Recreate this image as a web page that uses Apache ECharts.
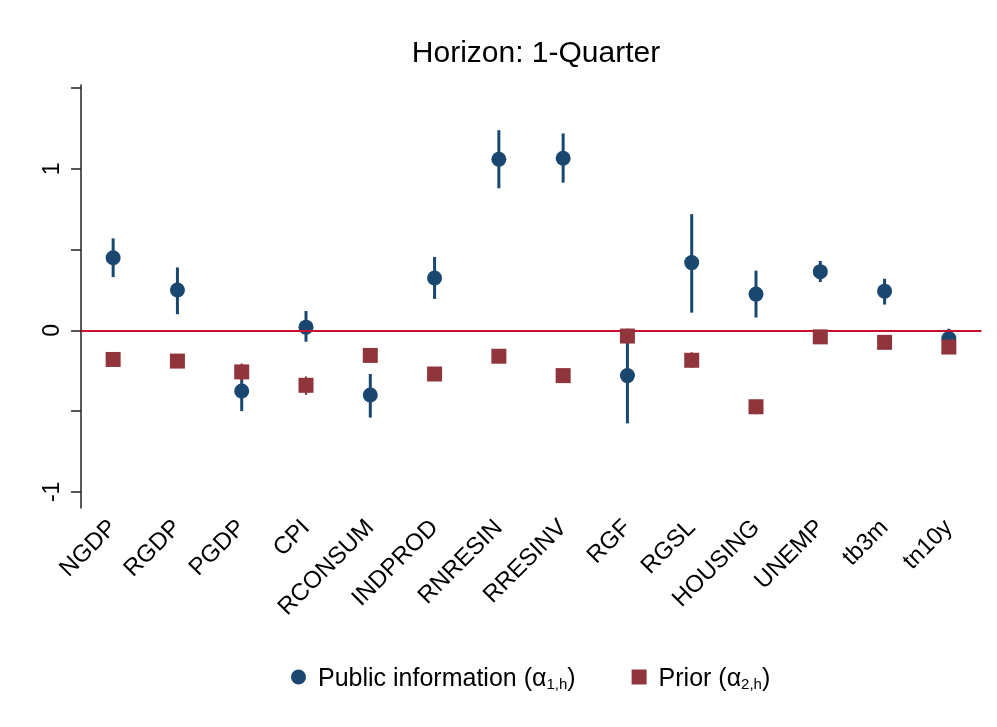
<!DOCTYPE html>
<html>
<head>
<meta charset="utf-8">
<script src="https://cdn.jsdelivr.net/npm/echarts@6/dist/echarts.min.js"></script>
<style>
  html, body { margin: 0; padding: 0; background: #fff; }
  #chart { width: 997px; height: 727px; }
</style>
</head>
<body>
<div id="chart"></div>
<script>
// variables on the x axis
var categories = ['NGDP', 'RGDP', 'PGDP', 'CPI', 'RCONSUM', 'INDPROD', 'RNRESIN',
                  'RRESINV', 'RGF', 'RGSL', 'HOUSING', 'UNEMP', 'tb3m', 'tn10y'];

// public information (alpha 1,h): point estimate and interval
var pubEst  = [0.45, 0.25, -0.375, 0.02, -0.40, 0.325, 1.06, 1.066, -0.28, 0.42, 0.225, 0.364, 0.243, -0.05];
var pubLow  = [0.33, 0.10, -0.50, -0.07, -0.54, 0.195, 0.88, 0.915, -0.576, 0.11, 0.08, 0.30, 0.16, -0.10];
var pubHigh = [0.57, 0.39, -0.25, 0.12, -0.27, 0.455, 1.24, 1.22, 0.01, 0.72, 0.37, 0.43, 0.32, 0.01];

// prior (alpha 2,h): point estimate and interval
var priorEst  = [-0.18, -0.19, -0.257, -0.34, -0.155, -0.27, -0.16, -0.28, -0.035, -0.185, -0.473, -0.04, -0.074, -0.103];
var priorLow  = [-0.20, -0.21, -0.31, -0.40, -0.17, -0.29, -0.18, -0.30, -0.07, -0.23, -0.52, -0.06, -0.09, -0.12];
var priorHigh = [-0.16, -0.17, -0.205, -0.285, -0.14, -0.25, -0.14, -0.26, 0.01, -0.135, -0.43, -0.02, -0.06, -0.085];

var yTicks = [-1, -0.5, 0, 0.5, 1, 1.5];
var yLabels = [-1, 0, 1];

var BLUE = '#1a476f';
var RED = '#90353b';

function barData(low, high) {
    return low.map(function (v, i) { return [i, v, high[i]]; });
}

function errorBar(color, width) {
    return function (params, api) {
        var p1 = api.coord([api.value(0), api.value(1)]);
        var p2 = api.coord([api.value(0), api.value(2)]);
        return {
            type: 'line',
            shape: { x1: p1[0], y1: p1[1], x2: p2[0], y2: p2[1] },
            style: { stroke: color, lineWidth: width }
        };
    };
}

var chart = echarts.init(document.getElementById('chart'));

var textFont = 'Liberation Sans';

var option = {
    backgroundColor: '#fff',
    animation: false,
    title: {
        text: 'Horizon: 1-Quarter',
        left: 531,
        textAlign: 'center',
        top: 34,
        textStyle: { fontFamily: textFont, fontSize: 30, fontWeight: 'normal', color: '#000' }
    },
    legend: {
        data: [
            { name: 'Public information', icon: 'circle' },
            { name: 'Prior', icon: 'rect' }
        ],
        left: 286,
        top: 662,
        itemWidth: 15,
        itemHeight: 15,
        itemGap: 56,
        formatter: function (name) {
            if (name === 'Public information') {
                return '{g|}{t|Public information (α}{s|1,h}{t|)}';
            }
            return '{g|}{t|Prior (α}{s|2,h}{t|)}';
        },
        textStyle: {
            fontFamily: textFont,
            color: '#000',
            rich: {
                g: { width: 7, lineHeight: 30 },
                t: { fontFamily: textFont, fontSize: 25, color: '#000', verticalAlign: 'bottom', lineHeight: 30 },
                s: { fontFamily: textFont, fontSize: 15, color: '#000', verticalAlign: 'bottom', lineHeight: 11 }
            }
        }
    },
    grid: {
        left: 81,
        right: 16,
        top: 85,
        bottom: 219
    },
    xAxis: {
        type: 'category',
        data: categories,
        boundaryGap: true,
        axisLine: { lineStyle: { color: '#222', width: 1.5 } },
        axisTick: { alignWithLabel: true, length: 9, lineStyle: { color: '#222', width: 1.5 } },
        axisLabel: {
            rotate: 45,
            interval: 0,
            margin: 16,
            fontFamily: textFont,
            fontSize: 24,
            color: '#000'
        },
        splitLine: { show: false }
    },
    yAxis: {
        type: 'value',
        min: -1.1,
        max: 1.52,
        axisLine: { show: true, lineStyle: { color: '#222', width: 1.5 } },
        axisTick: { show: true, length: 10, customValues: yTicks, lineStyle: { color: '#222', width: 1.5 } },
        axisLabel: {
            customValues: yLabels,
            rotate: 90,
            margin: 17,
            fontFamily: textFont,
            fontSize: 23,
            color: '#000'
        },
        splitLine: { show: false }
    },
    series: [
        {
            name: 'zero',
            type: 'line',
            data: [],
            silent: true,
            z: 1,
            markLine: {
                silent: true,
                symbol: 'none',
                label: { show: false },
                lineStyle: { color: '#c8102e', width: 2, type: 'solid' },
                data: [{ yAxis: 0 }]
            }
        },
        {
            name: 'pubBar',
            type: 'custom',
            renderItem: errorBar(BLUE, 3),
            data: barData(pubLow, pubHigh),
            z: 2
        },
        {
            name: 'Public information',
            type: 'scatter',
            symbol: 'circle',
            symbolSize: 15,
            itemStyle: { color: BLUE, opacity: 1 },
            data: pubEst,
            z: 3
        },
        {
            name: 'priorBar',
            type: 'custom',
            renderItem: errorBar(RED, 2),
            data: barData(priorLow, priorHigh),
            z: 4
        },
        {
            name: 'Prior',
            type: 'scatter',
            symbol: 'rect',
            symbolSize: 15,
            itemStyle: { color: RED, opacity: 1 },
            data: priorEst,
            z: 5
        }
    ]
};

chart.setOption(option);
</script>
</body>
</html>
